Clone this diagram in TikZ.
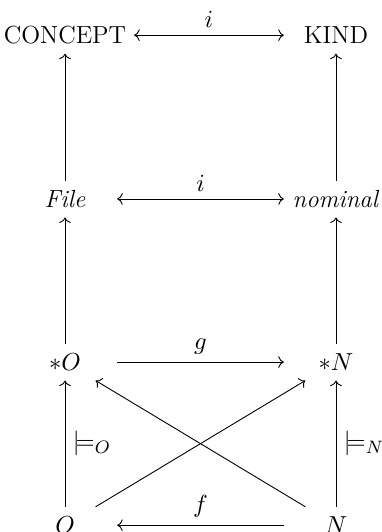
\documentclass[tikz,border=0pt]{standalone}
\usepackage{tikz}
\usetikzlibrary{arrows.meta, positioning}
\usepackage{amsmath, amssymb}

\begin{document}
\begin{tikzpicture}[scale=1, auto, every node/.style={font=\fontsize{11}{13}\selectfont},
    obj/.style={minimum width=46pt, minimum height=16pt}]
      \useasboundingbox (-1.016, -0.156) rectangle (4.955, 8.16);
      \node[obj] (concept) at (0, 7.61) {CONCEPT};
      \node[obj] (kind) at (4.236, 7.61) {KIND};
      \node[obj] (file) at (0, 5.05) {\textit{File}};
      \node[obj] (nominal) at (4.236, 5.05) {\textit{nominal}};
      \node[obj] (sO) at (0, 2.5) {$*O$};
      \node[obj] (sN) at (4.236, 2.5) {$*N$};
      \node[obj] (O) at (0, -0.05) {$O$};
      \node[obj] (N) at (4.236, -0.05) {$N$};
      \draw[<->] (concept) -- node {$i$} (kind);
      \draw[<->] (file) -- node {$i$} (nominal);
      \draw[->] (sO) -- node {$g$} (sN);
      \draw[->] (N) -- node[swap] {$f$} (O);
      \draw[->] (file) -- (concept);
      \draw[->] (nominal) -- (kind);
      \draw[->] (sO) -- (file);
      \draw[->] (sN) -- (nominal);
      \draw[->] (O) -- node[swap] {$\models_O$} (sO);
      \draw[->] (N) -- node[swap] {$\models_N$} (sN);
      \draw[->] (O) -- (sN);
      \draw[->] (N) -- (sO);
    \end{tikzpicture}
\end{document}
